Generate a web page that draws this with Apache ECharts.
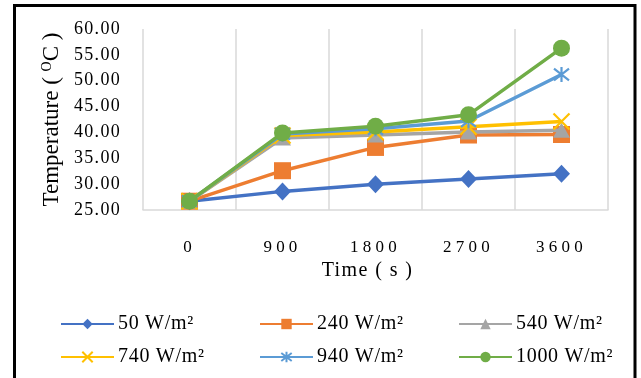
<!DOCTYPE html>
<html>
<head>
<meta charset="utf-8">
<title>Temperature vs Time</title>
<script src="https://cdn.jsdelivr.net/npm/echarts@6/dist/echarts.min.js"></script>
<style>
  html, body { margin: 0; padding: 0; background: #fff; }
  #chart { width: 641px; height: 378px; }
</style>
</head>
<body>
<div id="chart"></div>
<script>
// Time steps (s) and measured temperatures (°C) for each irradiance level
var times = ['0', '900', '1800', '2700', '3600'];
var t50 = [26.7, 28.6, 30.0, 31.0, 32.0];
var t240 = [26.7, 32.6, 37.1, 39.5, 39.6];
var t540 = [26.7, 38.9, 39.5, 40.1, 40.4];
var t740 = [26.7, 39.4, 40.1, 41.1, 42.1];
var t940 = [26.7, 39.7, 40.7, 42.2, 51.2];
var t1000 = [26.7, 39.9, 41.2, 43.4, 56.3];
var seriesNames = ['50 W/m²', '240 W/m²', '540 W/m²', '740 W/m²', '940 W/m²', '1000 W/m²'];
var yTicks = { min: 25, max: 60, step: 5 };

var SERIF = 'Liberation Serif';
var colors = ['#4472C4', '#ED7D31', '#A5A5A5', '#FFC000', '#5B9BD5', '#70AD47'];
var symbols = [
  'diamond',
  'rect',
  'triangle',
  'path://M0,0L10,10M10,0L0,10',
  'path://M0,0L10,10M10,0L0,10M5,-1.5L5,11.5',
  'circle'
];
var symbolSizes = [[17, 18], 17, [17, 15], 16, 15, 17];
var values = [t50, t240, t540, t740, t940, t1000];
var xName = 'Time ( s )';

// extra glyph spacing for the serif labels (canvas letterSpacing)
function glyphSpacing(s) {
  if (times.indexOf(s) >= 0) return 4.2;
  if (/^\d+\.\d\d$/.test(s)) return 1.3;
  if (s.indexOf('W/m') >= 0) return 0.7;
  if (s === xName) return 1.4;
  return 0;
}
(function () {
  var proto = CanvasRenderingContext2D.prototype;
  var fill = proto.fillText;
  proto.fillText = function (text, x, y, maxWidth) {
    var ls = glyphSpacing(String(text));
    var canSpace = ls && ('letterSpacing' in this);
    var prev;
    if (canSpace) { prev = this.letterSpacing; this.letterSpacing = ls + 'px'; }
    var r = maxWidth === undefined ? fill.call(this, text, x, y) : fill.call(this, text, x, y, maxWidth);
    if (canSpace) this.letterSpacing = prev;
    return r;
  };
})();

var series = seriesNames.map(function (name, i) {
  var stroked = symbols[i].indexOf('path://') === 0;
  return {
    name: name,
    type: 'line',
    data: values[i],
    symbol: symbols[i],
    symbolSize: symbolSizes[i],
    showSymbol: true,
    lineStyle: { color: colors[i], width: 3.5 },
    itemStyle: stroked
      ? { color: colors[i], borderColor: colors[i], borderWidth: 2.2 }
      : { color: colors[i], borderWidth: 0 },
    z: 2 + i
  };
});

// one legend block per series so the columns line up in a 3x2 grid
var legendCols = [55, 254, 453];
var legendRows = [309, 342];
var legends = seriesNames.map(function (name, i) {
  return {
    data: [name],
    left: legendCols[i % 3],
    top: legendRows[Math.floor(i / 3)],
    itemWidth: 53,
    itemHeight: 13,
    itemGap: 0,
    selectedMode: false,
    textStyle: { fontFamily: SERIF, fontSize: 20, color: '#000', padding: [0, 0, 0, -1] }
  };
});

var option = {
  animation: false,
  backgroundColor: '#fff',
  grid: { left: 143, right: 33, top: 29, bottom: 168, containLabel: false },
  legend: legends,
  xAxis: {
    type: 'category',
    data: times,
    boundaryGap: true,
    name: xName,
    nameLocation: 'middle',
    nameGap: 51,
    nameTextStyle: { fontFamily: SERIF, fontSize: 20, color: '#000', padding: [0, 16, 0, 0] },
    axisLine: { show: true, lineStyle: { color: '#d9d9d9', width: 1.5 } },
    axisTick: { show: false },
    axisLabel: { fontFamily: SERIF, fontSize: 17, color: '#000', margin: 29 },
    splitLine: { show: true, lineStyle: { color: '#d9d9d9', width: 1.5 } }
  },
  yAxis: {
    type: 'value',
    min: yTicks.min,
    max: yTicks.max,
    interval: yTicks.step,
    name: '{a|Temperature ( }{b|O}{a|C )}',
    nameLocation: 'middle',
    nameGap: 80,
    nameTextStyle: {
      rich: {
        a: { fontFamily: SERIF, fontSize: 23, color: '#000' },
        b: { fontFamily: SERIF, fontSize: 14, color: '#000', verticalAlign: 'top', padding: [0, 0, 8, 0] }
      }
    },
    axisLine: { show: false },
    axisTick: { show: false },
    splitLine: { show: false },
    axisLabel: {
      fontFamily: SERIF, fontSize: 18, color: '#000', margin: 22,
      formatter: function (v) { return v.toFixed(2); }
    }
  },
  graphic: [{
    type: 'rect',
    shape: { x: 14.5, y: 5.5, width: 620.5, height: 400 },
    style: { fill: 'none', stroke: '#000', lineWidth: 3 },
    silent: true,
    z: 100
  }],
  series: series
};

var chart = echarts.init(document.getElementById('chart'), null, { renderer: 'canvas' });
chart.setOption(option);
</script>
</body>
</html>
